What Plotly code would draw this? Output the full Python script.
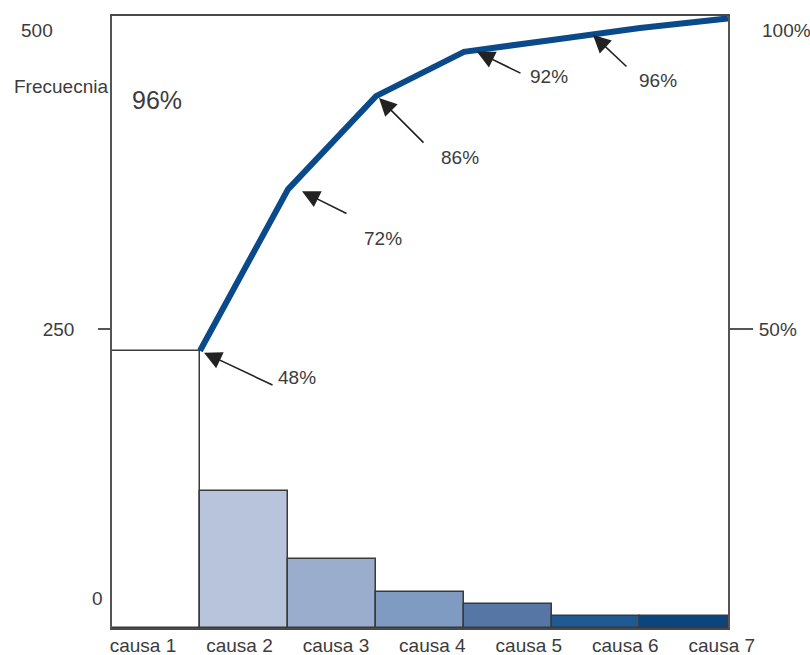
import plotly.graph_objects as go

# ---- data ----
causas = ["causa 1", "causa 2", "causa 3", "causa 4", "causa 5", "causa 6", "causa 7"]
frecuencia = [232, 115, 58, 30, 20, 10, 10]
acumulado = [232, 367, 445, 482, 492, 502, 510]
etiquetas_pct = ["48%", "72%", "86%", "92%", "96%"]
ticks_izq = ["0", "250", "500"]
ticks_der = ["50%", "100%"]

# ---- styles ----
FONT = "Liberation Sans, Arial, sans-serif"
TXT = "#3c3c3c"
bar_colors = ["#ffffff", "#b8c4dc", "#9aadcc", "#7f9bc2", "#5676a6", "#1f5a92", "#0b4580"]
LINE_COL = "#0b4a8a"

idx = list(range(len(causas)))
edges = [i + 0.5 for i in idx]  # right edge of every bar

fig = go.Figure()
fig.add_trace(go.Bar(
    x=idx, y=frecuencia, width=1,
    marker=dict(color=bar_colors, line=dict(color="#3a3a3a", width=1.5)),
    showlegend=False, hoverinfo="skip",
))
fig.add_trace(go.Scatter(
    x=edges, y=acumulado, mode="lines",
    line=dict(color=LINE_COL, width=6),
    showlegend=False, hoverinfo="skip",
))
# helper trace carrying the category labels on a second x axis
fig.add_trace(go.Scatter(
    x=causas, y=frecuencia, xaxis="x2", yaxis="y", mode="markers",
    marker=dict(opacity=0), showlegend=False, hoverinfo="skip",
))

annotations = []
# arrows: (xshift, yshift of tip), (ax, ay tail offset), (label dx, dy)
arrow_style = [
    ((4, -2), (70, 33), (93, 25)),
    ((14, -2), (46, 23), (81, 47)),
    ((3, -2), (46, 46), (81, 59)),
    ((13, 0), (45, 22), (72, 25)),
    ((41, 5), (35, 33), (65, 46)),
]
for i, lab in enumerate(etiquetas_pct):
    (sx, sy), (ax, ay), (dx, dy) = arrow_style[i]
    annotations.append(dict(
        x=edges[i], y=acumulado[i], xref="x", yref="y", text="",
        showarrow=True, arrowhead=2, arrowsize=2.2, arrowwidth=1.6, arrowcolor="#222222",
        ax=ax, ay=ay, xshift=sx, yshift=sy,
    ))
    annotations.append(dict(
        x=edges[i], y=acumulado[i], xref="x", yref="y", text=lab,
        showarrow=False, xanchor="center", yanchor="middle",
        xshift=sx + dx, yshift=sy - dy,
        font=dict(family=FONT, size=19, color=TXT),
    ))

# left axis labels "0" and "500" (placed as in the reference)
annotations.append(dict(x=-0.0515, y=500, xref="paper", yref="y", text=ticks_izq[2],
                        showarrow=False, xanchor="right", yanchor="middle",
                        font=dict(family=FONT, size=19, color=TXT)))
annotations.append(dict(x=0.022, y=0, xref="paper", yref="y", text=ticks_izq[0],
                        showarrow=False, xanchor="right", yanchor="middle", yshift=30,
                        font=dict(family=FONT, size=19, color=TXT)))
# right axis "100%"
annotations.append(dict(x=0.985, y=100, xref="paper", yref="y2", text=ticks_der[1],
                        showarrow=False, xanchor="left", yanchor="middle",
                        font=dict(family=FONT, size=19, color=TXT)))
annotations.append(dict(x=0.0294, y=0.8856, xref="paper", yref="paper", text="Frecuecnia",
                        showarrow=False, xanchor="right", yanchor="middle",
                        font=dict(family=FONT, size=19, color=TXT)))
annotations.append(dict(x=0.0588, y=0.8627, xref="paper", yref="paper", text="96%",
                        showarrow=False, xanchor="left", yanchor="middle",
                        font=dict(family=FONT, size=25, color=TXT)))

YMAX = 512
fig.update_layout(
    width=810, height=655,
    margin=dict(l=90, r=40, t=16, b=27, autoexpand=False),
    paper_bgcolor="white", plot_bgcolor="rgba(0,0,0,0)",
    bargap=0,
    font=dict(family=FONT, size=19, color=TXT),
    xaxis=dict(domain=[0.03235, 0.93824], range=[-0.5, 6.5], showticklabels=False,
               showgrid=False, zeroline=False, ticks="", automargin=False,
               showline=True, mirror=True, linecolor="#4a4a4a", linewidth=1.8),
    xaxis2=dict(domain=[0.007, 1.0], anchor="y", type="category", range=[-0.5, 6.5],
                showgrid=False, zeroline=False, showline=False, ticks="", automargin=False,
                ticklabelstandoff=4,
                tickfont=dict(family=FONT, size=19, color=TXT)),
    yaxis=dict(range=[0, YMAX], tickvals=[250], ticktext=[ticks_izq[1]],
               ticks="outside", ticklen=12, tickcolor="#555555", tickwidth=1.5,
               ticklabelstandoff=20, automargin=False,
               showgrid=False, zeroline=False,
               showline=True, mirror=True, linecolor="#555555", linewidth=1.5,
               tickfont=dict(family=FONT, size=19, color=TXT)),
    yaxis2=dict(range=[0, YMAX / 5], overlaying="y", side="right", anchor="x",
                tickvals=[50], ticktext=[ticks_der[0]],
                ticks="outside", ticklen=24, tickcolor="#555555", tickwidth=1.5,
                ticklabelstandoff=2, automargin=False,
                showgrid=False, zeroline=False, showline=False,
                tickfont=dict(family=FONT, size=19, color=TXT)),
    annotations=annotations,
)

fig.write_html("out.html", config={"displayModeBar": False},
               post_script="document.body.style.margin='0';")
